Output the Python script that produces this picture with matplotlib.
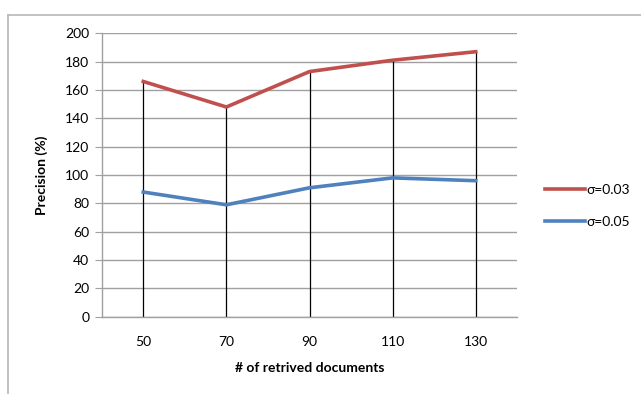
import matplotlib
matplotlib.use("Agg")
from matplotlib import pyplot as plt
from matplotlib.lines import Line2D

plt.rcParams['font.family'] = ['Lato', 'DejaVu Sans']

docs = ["50", "70", "90", "110", "130"]
prec_003 = [166, 148, 173, 181, 187]
prec_005 = [88, 79, 91, 98, 96]
y_ticks = [0, 20, 40, 60, 80, 100, 120, 140, 160, 180, 200]

RED = "#c0504d"
BLUE = "#4f81bd"
GRID = "#a0a0a0"

fig = plt.figure(figsize=(6.41, 3.94), dpi=100)
ax = fig.add_axes([0.1587, 0.196, 0.6483, 0.7195])

x = list(range(len(docs)))

# drop lines from the top series down to the axis
top = [max(a, b) for a, b in zip(prec_003, prec_005)]
ax.vlines(x, 0, top, colors="black", linewidth=0.9, zorder=2)

ax.plot(x, prec_003, color=RED, linewidth=2.6, label="σ=0.03", zorder=3)
ax.plot(x, prec_005, color=BLUE, linewidth=2.6, label="σ=0.05", zorder=3)

ax.set_xlim(-0.5, len(docs) - 0.5)
ax.set_ylim(0, 200)
ax.set_yticks(y_ticks)
ax.set_xticks(x)
ax.set_xticklabels(docs)
ax.yaxis.grid(True, color=GRID, linewidth=1.0, zorder=1)
ax.set_axisbelow(True)

for s in ["top", "right"]:
    ax.spines[s].set_visible(False)
ax.spines["left"].set_color(GRID)
ax.spines["bottom"].set_color(GRID)
ax.spines["left"].set_linewidth(1.0)
ax.spines["bottom"].set_linewidth(1.0)

ax.tick_params(axis="y", direction="out", length=5, color=GRID, labelsize=10, pad=4)
ax.tick_params(axis="x", length=0, labelsize=10, pad=14)

ax.set_ylabel("Precision (%)", fontsize=10, fontweight="bold", labelpad=12)
ax.set_xlabel("# of retrived documents", fontsize=10, fontweight="bold", labelpad=10)

fig.legend(handles=ax.get_lines(), loc="center left", bbox_to_anchor=(545 / 641, 1 - 206 / 394),
           frameon=False, fontsize=10, handlelength=2.9, handletextpad=0.05,
           labelspacing=1.45, borderpad=0, borderaxespad=0)

# chart frame (spreadsheet chart border)
fig.add_artist(Line2D([8 / 641, 1], [1 - 14.5 / 394] * 2, color="#b8b8b8", linewidth=1.2,
                      transform=fig.transFigure))
fig.add_artist(Line2D([8 / 641] * 2, [0, 1 - 14.5 / 394], color="#b8b8b8", linewidth=1.2,
                      transform=fig.transFigure))

fig.savefig("out.png", dpi=100)
